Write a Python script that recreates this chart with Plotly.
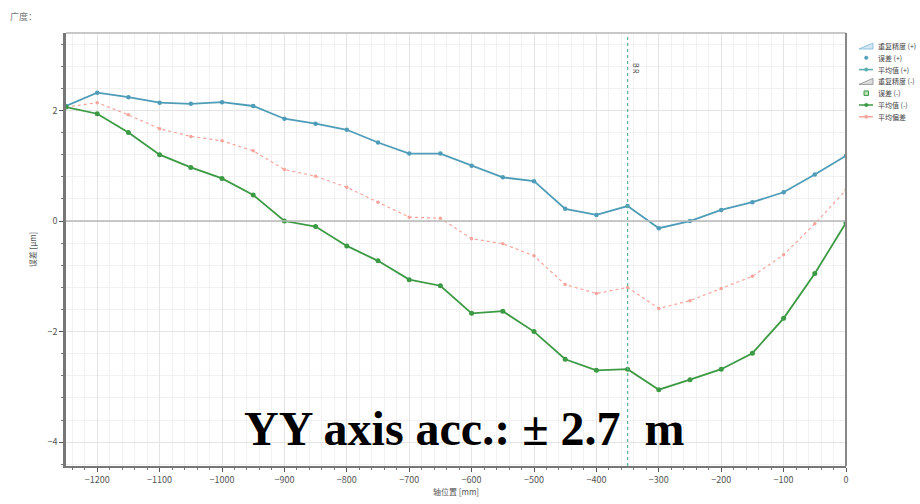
import plotly.graph_objects as go

positions = [-1250, -1200, -1150, -1100, -1050, -1000, -950, -900, -850, -800, -750, -700, -650,
             -600, -550, -500, -450, -400, -350, -300, -250, -200, -150, -100, -50, 0]
err_plus = [2.08, 2.32, 2.24, 2.14, 2.12, 2.15, 2.08, 1.85, 1.76, 1.65, 1.42, 1.22, 1.22,
            1.00, 0.79, 0.72, 0.22, 0.11, 0.27, -0.13, 0.00, 0.20, 0.34, 0.52, 0.84, 1.18]
err_minus = [2.06, 1.94, 1.60, 1.20, 0.97, 0.77, 0.47, 0.00, -0.10, -0.45, -0.72, -1.06, -1.17,
             -1.67, -1.63, -2.00, -2.50, -2.70, -2.68, -3.05, -2.87, -2.68, -2.39, -1.76, -0.95, -0.03]
mean_dev = [2.06, 2.14, 1.92, 1.67, 1.53, 1.45, 1.27, 0.93, 0.81, 0.61, 0.34, 0.07, 0.05,
            -0.32, -0.41, -0.63, -1.15, -1.31, -1.20, -1.58, -1.44, -1.22, -1.00, -0.61, -0.05, 0.56]
marker_pos = -350
x_ticks = [-1200, -1100, -1000, -900, -800, -700, -600, -500, -400, -300, -200, -100, 0]
y_ticks = [-4, -2, 0, 2]
legend_labels = ["重复精度 (+)", "误差 (+)", "平均值 (+)", "重复精度 (-)", "误差 (-)", "平均值 (-)", "平均偏差"]

BLUE = "#4f9cb8"
GREEN = "#3c9a44"
PINK = "#f6a49c"

W, H = 920, 504
ML, MR, MT, MB = 66, 74, 33, 38
PW, PH = W - ML - MR, H - MT - MB


def px(xp):
    return (xp - ML) / PW


def py(yp):
    return (H - MB - yp) / PH


fig = go.Figure()
fig.add_trace(go.Scatter(x=positions, y=mean_dev, mode="lines+markers",
                         line=dict(color=PINK, width=1.2, dash="dot"), marker=dict(color=PINK, size=3.5),
                         name=legend_labels[6]))
fig.add_trace(go.Scatter(x=positions, y=err_plus, mode="lines+markers",
                         line=dict(color=BLUE, width=1.8), marker=dict(color=BLUE, size=4.5),
                         name=legend_labels[2]))
fig.add_trace(go.Scatter(x=positions, y=err_minus, mode="lines+markers",
                         line=dict(color=GREEN, width=1.8), marker=dict(color=GREEN, size=5),
                         name=legend_labels[5]))

fig.add_vline(x=marker_pos, line=dict(color="#5cb896", width=1.3, dash="dot"))
fig.add_hline(y=0, line=dict(color="#b8b8b8", width=1.5))

fig.add_annotation(x=marker_pos, y=1.0, xref="x", yref="paper", text="B R", textangle=90,
                   showarrow=False, xanchor="left", yanchor="top", xshift=2, yshift=-28,
                   font=dict(size=7, color="#444444"))

fig.add_annotation(x=px(8), y=py(16), xref="paper", yref="paper", text="广度：", showarrow=False,
                   xanchor="left", yanchor="middle", font=dict(size=9, color="#777777"))

fig.add_annotation(x=-612, y=-3.76, xref="x", yref="y", text="<b>YY axis acc.: ± 2.7  m</b>",
                   showarrow=False, xanchor="center", yanchor="middle",
                   font=dict(family="Liberation Serif, Times New Roman, serif", size=48, color="#000000"))

# compact legend drawn at the right edge
y0, dy = 46, 11.8
icon_x0, icon_x1, text_x = 859, 873, 876
for i, label in enumerate(legend_labels):
    yc = y0 + dy * i
    if i in (0, 3):
        col = "rgba(140,190,220,0.9)" if i == 0 else "rgba(150,150,150,0.9)"
        fill = "rgba(180,215,235,0.6)" if i == 0 else "rgba(200,200,200,0.6)"
        fig.add_shape(type="path", xref="paper", yref="paper",
                      path=f"M {px(icon_x0)},{py(yc+3)} L {px(icon_x1)},{py(yc-3)} L {px(icon_x1)},{py(yc+3)} Z",
                      line=dict(color=col, width=1), fillcolor=fill)
    elif i == 1:
        fig.add_shape(type="circle", xref="paper", yref="paper",
                      x0=px(864.5), x1=px(868), y0=py(yc+1.75), y1=py(yc-1.75),
                      line=dict(color=BLUE, width=0.5), fillcolor=BLUE)
    elif i == 4:
        fig.add_shape(type="rect", xref="paper", yref="paper",
                      x0=px(864), x1=px(868.5), y0=py(yc+2.25), y1=py(yc-2.25),
                      line=dict(color=GREEN, width=1), fillcolor="#b8e3b8")
    else:
        col = {2: "#5ab0b0", 5: GREEN, 6: PINK}[i]
        fig.add_shape(type="line", xref="paper", yref="paper",
                      x0=px(icon_x0), x1=px(icon_x1), y0=py(yc), y1=py(yc),
                      line=dict(color=col, width=1.5))
        fig.add_shape(type="circle", xref="paper", yref="paper",
                      x0=px(864.5), x1=px(868), y0=py(yc+1.75), y1=py(yc-1.75),
                      line=dict(color=col, width=0.5), fillcolor=col)
    fig.add_annotation(x=px(text_x), y=py(yc), xref="paper", yref="paper", text=label,
                       showarrow=False, xanchor="left", yanchor="middle",
                       font=dict(size=7, color="#444444"))

fig.update_layout(
    width=W, height=H,
    margin=dict(l=ML, r=MR, t=MT, b=MB, autoexpand=False),
    paper_bgcolor="white", plot_bgcolor="white",
    font=dict(family="Noto Sans CJK SC, Noto Sans, sans-serif", size=8, color="#555555"),
    showlegend=False,
)
fig.update_xaxes(
    range=[-1250, 0], tickvals=x_ticks, ticks="outside", ticklen=4, tickcolor="#555555",
    showline=True, linecolor="#777777", linewidth=2, mirror=False,
    showgrid=True, gridcolor="#e4e4e4", gridwidth=1, zeroline=False,
    minor=dict(dtick=20, showgrid=True, gridcolor="#f1f1f1", ticks="outside", ticklen=2, tickcolor="#777777"),
    title=dict(text="轴位置 [mm]", font=dict(size=8, color="#555555"), standoff=2),
    tickfont=dict(size=9, color="#555555"),
)
fig.update_yaxes(
    range=[-4.43, 3.4], tickvals=y_ticks, ticks="outside", ticklen=4, tickcolor="#555555",
    showline=True, linecolor="#777777", linewidth=2.5, mirror=False,
    showgrid=True, gridcolor="#e4e4e4", gridwidth=1, zeroline=False,
    minor=dict(dtick=0.4, showgrid=True, gridcolor="#f1f1f1", ticks="outside", ticklen=2, tickcolor="#777777"),
    title=dict(text="误差 [μm]", font=dict(size=8, color="#555555"), standoff=10),
    tickfont=dict(size=9, color="#555555"),
)
fig.add_shape(type="line", xref="paper", yref="paper", x0=0, x1=1, y0=1, y1=1,
              line=dict(color="#c8c8c8", width=2))
fig.add_shape(type="line", xref="paper", yref="paper", x0=1, x1=1, y0=0, y1=1,
              line=dict(color="#888888", width=2))

fig.write_html("out.html")
